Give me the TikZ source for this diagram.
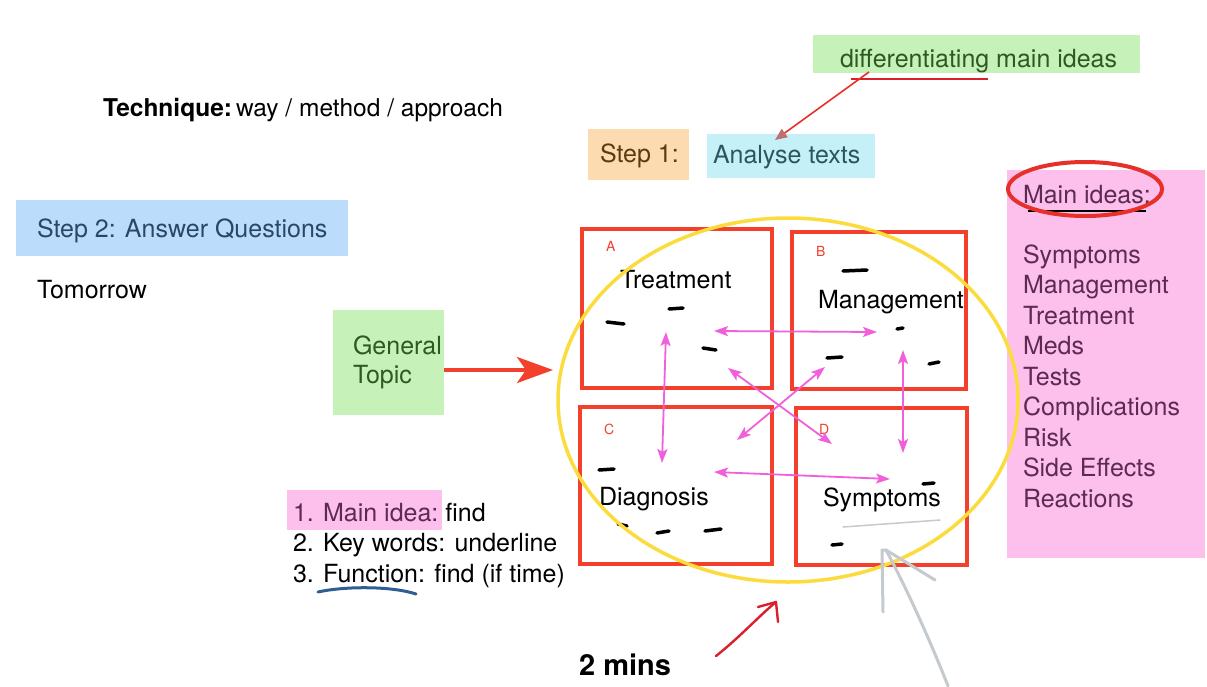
\documentclass[tikz,border=0pt]{standalone}
\usepackage{fontspec}
\setmainfont{TeX Gyre Heros}
\usetikzlibrary{arrows.meta,shapes.geometric}
\definecolor{bluebox}{HTML}{BBDDFB}
\definecolor{bluetxt}{HTML}{2A4866}
\definecolor{orangebox}{HTML}{FDDBB0}
\definecolor{orangetxt}{HTML}{5B3B12}
\definecolor{cyanbox}{HTML}{C6F0F8}
\definecolor{cyantxt}{HTML}{2D5560}
\definecolor{greenbox}{HTML}{C6F1B9}
\definecolor{greentxt}{HTML}{2F5A1F}
\definecolor{pinkbox}{HTML}{FDBFEC}
\definecolor{pinktxt}{HTML}{5C2A55}
\definecolor{qred}{HTML}{F2402C}
\definecolor{hred}{HTML}{D9202C}
\definecolor{ored}{HTML}{E8302A}
\definecolor{tipred}{HTML}{C07070}
\definecolor{ayellow}{HTML}{FCDC3C}
\definecolor{apink}{HTML}{F25FDA}
\definecolor{pencil}{HTML}{C4CACD}
\definecolor{penblue}{HTML}{2F5E92}
\begin{document}
\begin{tikzpicture}[x=1pt,y=-1pt,
  txt/.style={anchor=base west, inner sep=0pt, outer sep=0pt, font=\fontsize{25}{30}\selectfont},
  small/.style={anchor=base west, inner sep=0pt, text=qred, font=\fontsize{14}{16}\selectfont},
  hl/.style={inner sep=0pt, outer sep=0pt, draw=none},
  quad/.style={draw=qred, line width=4pt, inner sep=0pt},
  pa/.style={{Stealth[length=14pt,width=10pt,inset=3pt]}-{Stealth[length=14pt,width=10pt,inset=3pt]}, draw=apink, line width=1.8pt},
  inkdash/.style={line width=3.5pt, line cap=round, black}
]
\useasboundingbox (0,0) rectangle (1207,686);
\fill[white] (0,0) rectangle (1207,686);

% Technique
\node[txt, font=\fontsize{24.5}{28}\selectfont] (tech) at (103,116) {\textbf{Technique:}\hspace{4pt}way / method / approach};

% Step 2
\node[hl, fill=bluebox, minimum width=332, minimum height=56] (s2box) at (182,228) {};
\node[txt, text=bluetxt] (s2) at (37,237) {Step 2: Answer Questions};
\node[txt] (tom) at (37,298) {Tomorrow};

% Step 1 / Analyse texts / differentiating
\node[hl, fill=orangebox, minimum width=101, minimum height=51] (s1box) at (638.5,154.5) {};
\node[txt, text=orangetxt] (s1) at (600,162) {Step 1:};
\node[hl, fill=cyanbox, minimum width=168, minimum height=44] (anbox) at (791,156) {};
\node[txt, text=cyantxt] (an) at (713,163) {Analyse texts};
\node[hl, fill=greenbox, minimum width=327, minimum height=38] (dfbox) at (976.5,54) {};
\node[txt, text=greentxt] (df) at (840,67) {differentiating main ideas};
\draw[hred, line width=2.2pt] (851,79) -- (988,79);
\coordinate (dfstart) at (869,72);
\coordinate (antip) at (775,140);
\draw[ored, line width=1.6pt, -{Triangle[length=12pt,width=10pt,fill=tipred,color=tipred]}] (dfstart) -- (antip);

% Main ideas panel
\node[hl, fill=pinkbox, minimum width=198, minimum height=388] (mibox) at (1106,364) {};
\node[txt, text=pinktxt] (mih) at (1023,203) {Main ideas:};
\draw[black, line width=1.6pt] (1028,211) -- (1146,211);
\node[ellipse, draw=ored, line width=4pt, minimum width=154, minimum height=54, inner sep=0pt] (miell) at (1085,189) {};
\foreach \t [count=\i] in {Symptoms,Management,Treatment,Meds,Tests,Complications,Risk,Side Effects,Reactions}{
  \node[txt, text=pinktxt] (mi\i) at (1023,{263+30.5*(\i-1)}) {\t};
}

% General topic
\node[hl, fill=greenbox, minimum width=111, minimum height=105] (gtbox) at (388.5,362.5) {};
\node[txt, text=greentxt] (gt1) at (353,354) {General};
\node[txt, text=greentxt] (gt2) at (353,383) {Topic};
\coordinate (gtstart) at (444,370);
\coordinate (gttip) at (553,370);
\draw[qred, line width=4pt, -{Stealth[length=36pt,width=26pt,inset=9pt]}] (gtstart) -- (gttip);

% Quadrants
\node[quad, minimum width=190, minimum height=159] (qa) at (677,308.5) {};
\node[quad, minimum width=174, minimum height=157] (qb) at (879,310) {};
\node[quad, minimum width=192, minimum height=157] (qc) at (676,485) {};
\node[quad, minimum width=171, minimum height=157] (qd) at (881.5,486) {};
\node[small] (la) at (606,251) {A};
\node[small] (lb) at (816,256) {B};
\node[small] (lc) at (604,434) {C};
\node[small] (ld) at (819,434) {D};
\node[txt] (ta) at (620,288) {Treatment};
\node[txt] (tb) at (818,308) {Management};
\node[txt] (tc) at (599,505) {Diagnosis};
\node[txt] (td) at (823,506) {Symptoms};

% dashes
\draw[inkdash] (607,322) -- (624,324);
\draw[inkdash] (669,309) -- (683,308);
\draw[inkdash] (703,348) -- (716,350);
\draw[inkdash] (843,271) -- (867,270);
\draw[inkdash] (897,329) -- (903,328);
\draw[inkdash] (827,358) -- (842,357);
\draw[inkdash] (929,364) -- (939,362);
\draw[inkdash] (599,470) -- (614,469);
\draw[inkdash] (618,524) -- (627,526);
\draw[inkdash] (657,533) -- (669,531);
\draw[inkdash] (705,531) -- (721,529);
\draw[inkdash] (923,484) -- (934,483);
\draw[inkdash] (832,545) -- (842,544);

% pink arrows
\coordinate (p1a) at (714,331); \coordinate (p1b) at (877,332);
\coordinate (p2a) at (666,332); \coordinate (p2b) at (662,463);
\coordinate (p3a) at (903,350); \coordinate (p3b) at (903,453);
\coordinate (p4a) at (714,472); \coordinate (p4b) at (890,479);
\coordinate (p5a) at (728,368); \coordinate (p5b) at (832,444);
\coordinate (p6a) at (825,367); \coordinate (p6b) at (737,440);
\draw[pa] (p1a) -- (p1b);
\draw[pa] (p2a) -- (p2b);
\draw[pa] (p3a) -- (p3b);
\draw[pa] (p4a) -- (p4b);
\draw[pa] (p5a) -- (p5b);
\draw[pa] (p6a) -- (p6b);

% yellow oval
\node[ellipse, draw=ayellow, line width=3.5pt, minimum width=460, minimum height=364, inner sep=0pt] (oval) at (788,400) {};

% bottom list
\node[hl, fill=pinkbox, minimum width=155, minimum height=40] (hlbox) at (364.5,510) {};
\node[txt, text=pinktxt] (b1) at (293,521) {1. Main idea:};
\node[txt] (b1b) at (b1.base east) {\ find};
\node[txt] (b2) at (293,551.5) {2. Key words: underline};
\node[txt] (b3) at (293,582) {3. Function: find (if time)};
\draw[penblue, line width=3pt, line cap=round] (318,592) .. controls (345,586) and (392,586) .. (416,594);

% 2 mins
\node[anchor=base west, inner sep=0pt, font=\fontsize{29}{31}\selectfont\bfseries] (mins) at (579,675) {2 mins};
\coordinate (hstart) at (716,656);
\coordinate (htip) at (776,602);
\draw[hred, line width=2.4pt, line cap=round, line join=round] (hstart) .. controls (740,637) and (760,615) .. (htip);
\draw[hred, line width=2.4pt, line cap=round, line join=round] (758,607) -- (htip) -- (778,622);

% pencil scribbles
\draw[pencil, line width=1.5pt, line cap=round] (843,527) -- (940,520);
\coordinate (gbot) at (948,686);
\coordinate (gtip) at (886,550);
\draw[pencil, line width=3pt, line cap=round] (gbot) .. controls (930,640) and (905,585) .. (gtip);
\draw[pencil, line width=3pt, line cap=round, line join=round] (883,612) -- (882,550) -- (gtip) -- (935,580);
\end{tikzpicture}
\end{document}
